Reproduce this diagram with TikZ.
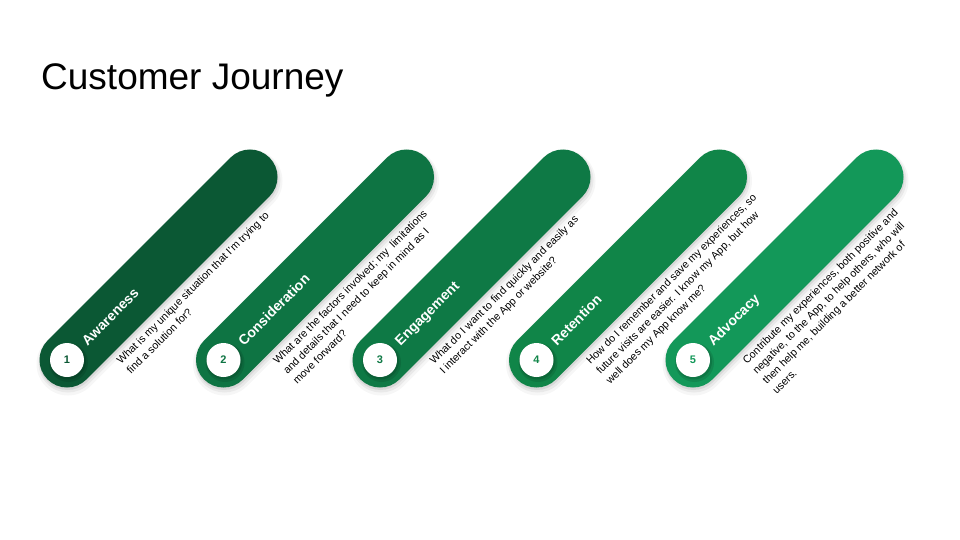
\documentclass[tikz,border=0pt]{standalone}
\usepackage{fontspec}
\setmainfont{Liberation Sans}
\usetikzlibrary{calc}
\definecolor{jA}{RGB}{11,88,52}
\definecolor{jB}{RGB}{14,116,67}
\definecolor{jC}{RGB}{14,121,69}
\definecolor{jD}{RGB}{16,133,72}
\definecolor{jE}{RGB}{19,152,89}
\tikzset{
  pillshadow/.style={line cap=round, black},
  numcircle/.style={circle, fill=white, minimum size=34pt, inner sep=0pt, font=\bfseries\fontsize{11}{13}\selectfont},
  steplabel/.style={rotate=45, anchor=base west, inner sep=0pt, text=white, font=\bfseries\fontsize{14}{16}\selectfont},
  stepdesc/.style={rotate=45, anchor=base west, inner sep=0pt, text=black, font=\fontsize{10.7}{14}\selectfont},
}
\newcommand{\jstep}[5]{%
  \coordinate (s#1) at (#2,360);
  \coordinate (e#1) at ($(s#1)+(183,-183)$);
  \draw[pillshadow, line width=63pt, opacity=.035] ($(s#1)+(1,4)$) -- ($(e#1)+(1,4)$);
  \draw[pillshadow, line width=59pt, opacity=.05] ($(s#1)+(1,3)$) -- ($(e#1)+(1,3)$);
  \draw[pillshadow, line width=56pt, opacity=.07] ($(s#1)+(0.5,2)$) -- ($(e#1)+(0.5,2)$);
  \draw[line cap=round, line width=55pt, #3] (s#1) -- (e#1);
  \fill[black, opacity=.10] ($(s#1)+(1.5,2.5)$) circle (19.5);
  \fill[black, opacity=.12] ($(s#1)+(1,1.5)$) circle (18);
  \node[numcircle, text=#3] (n#1) at (s#1) {#1};
  \node[steplabel] (l#1) at ($(s#1)+(20.5,-13.4)$) {#4};
  \node[stepdesc] (d#1) at ($(s#1)+(54,5)$) {\begin{tabular}[t]{@{}l@{}}#5\end{tabular}};
}
\begin{document}
\begin{tikzpicture}[x=1pt,y=-1pt]
\useasboundingbox[fill=white] (0,0) rectangle (960,540);
\node[anchor=base west, inner sep=0pt, font=\fontsize{37}{40}\selectfont] (title) at (41,90) {Customer Journey};
\jstep{1}{67}{jA}{Awareness}{What is my unique situation that I'm trying to\\find a solution for?}
\jstep{2}{223.5}{jB}{Consideration}{What are the factors involved; my~ limitations\\and details that I need to keep in mind as I\\move forward?}
\jstep{3}{380}{jC}{Engagement}{What do I want to find quickly and easily as\\I interact with the App or website?}
\jstep{4}{536.5}{jD}{Retention}{How do I remember and save my experiences, so\\future visits are easier. I know my App, but how\\well does my App know me?}
\jstep{5}{693}{jE}{Advocacy}{Contribute my experiences, both positive and\\negative, to the App, to help others, who will\\then help me, building a better network of\\users.}
\end{tikzpicture}
\end{document}
